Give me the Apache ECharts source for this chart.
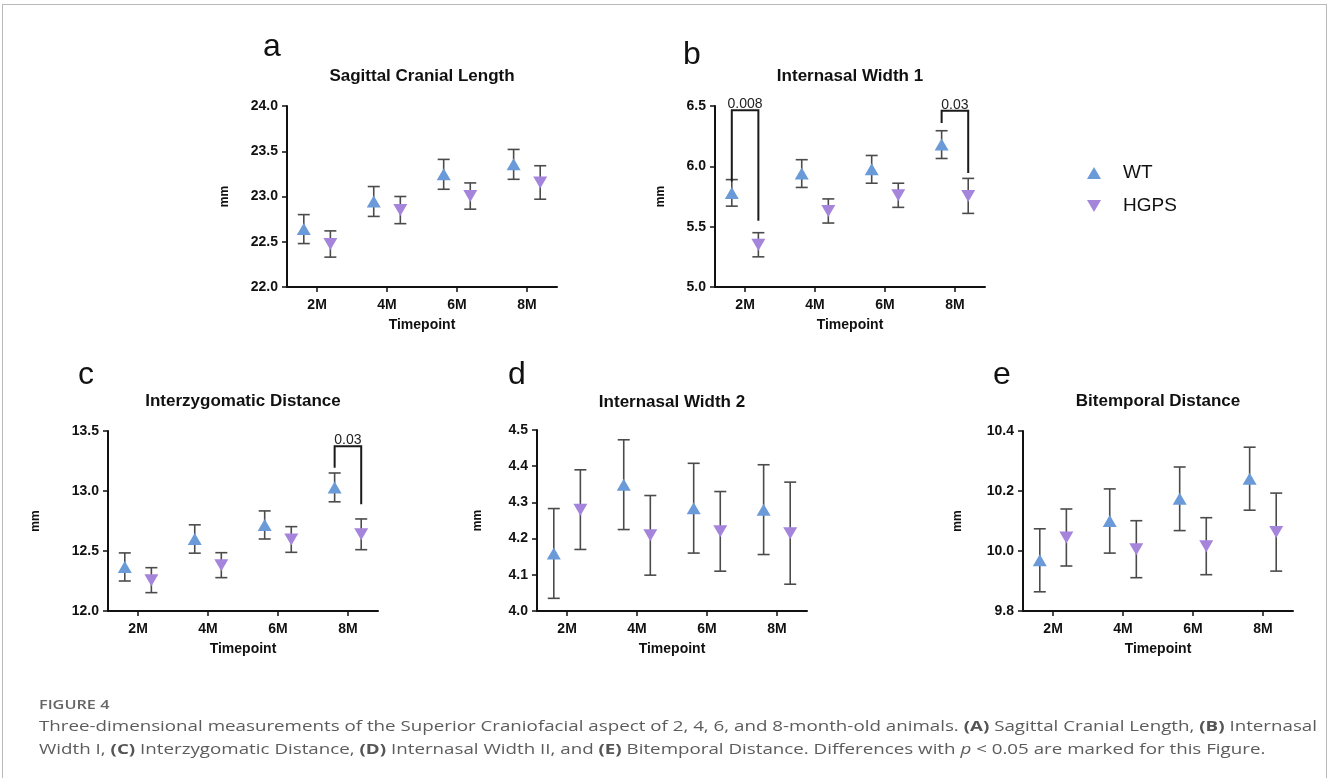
<!DOCTYPE html>
<html>
<head>
<meta charset="utf-8">
<script src="https://cdn.jsdelivr.net/npm/echarts@6/dist/echarts.min.js"></script>
<style>
body{margin:0;background:#fff;overflow:hidden;}
#frame{position:absolute;left:2px;top:4px;width:1325px;height:800px;border:1px solid #b9b9b9;box-sizing:border-box;}
#chart{position:absolute;left:0;top:0;width:1328px;height:778px;}
#caption{position:absolute;left:39px;top:694px;font-family:"Open Sans",sans-serif;color:#5c5c5c;white-space:nowrap;transform:scaleX(1.25);transform-origin:0 0;}
#caption .fig{font-size:13px;font-weight:600;color:#666;line-height:20px;}
#caption .txt{font-size:15px;line-height:23px;}
#caption b{font-weight:700;color:#555;}
</style>
</head>
<body>
<div id="frame"></div>
<div id="chart"></div>
<div id="caption">
<div class="fig">FIGURE 4</div>
<div class="txt">Three-dimensional measurements of the Superior Craniofacial aspect of 2, 4, 6, and 8-month-old animals. <b>(A)</b> Sagittal Cranial Length, <b>(B)</b> Internasal<br>Width I, <b>(C)</b> Interzygomatic Distance, <b>(D)</b> Internasal Width II, and <b>(E)</b> Bitemporal Distance. Differences with <i>p</i> &lt; 0.05 are marked for this Figure.</div>
</div>
<script>
var timepoints = ['2M', '4M', '6M', '8M'];

// a - Sagittal Cranial Length (mean, error)
var sclWT = [22.64, 22.945, 23.245, 23.355];
var sclWTErr = [0.16, 0.165, 0.165, 0.165];
var sclHGPS = [22.475, 22.85, 23.005, 23.155];
var sclHGPSErr = [0.145, 0.15, 0.145, 0.185];

// b - Internasal Width 1
var iw1WT = [5.78, 5.94, 5.975, 6.18];
var iw1WTErr = [0.11, 0.115, 0.115, 0.115];
var iw1HGPS = [5.35, 5.63, 5.76, 5.755];
var iw1HGPSErr = [0.10, 0.10, 0.10, 0.145];

// c - Interzygomatic Distance
var izdWT = [12.367, 12.60, 12.717, 13.03];
var izdWTErr = [0.117, 0.118, 0.117, 0.12];
var izdHGPS = [12.257, 12.382, 12.596, 12.639];
var izdHGPSErr = [0.104, 0.104, 0.107, 0.128];

// d - Internasal Width 2
var iw2WT = [4.159, 4.349, 4.284, 4.28];
var iw2WTErr = [0.124, 0.124, 0.124, 0.124];
var iw2HGPS = [4.28, 4.209, 4.22, 4.215];
var iw2HGPSErr = [0.11, 0.11, 0.11, 0.141];

// e - Bitemporal Distance
var btdWT = [9.969, 10.10, 10.174, 10.241];
var btdWTErr = [0.105, 0.107, 0.106, 0.105];
var btdHGPS = [10.045, 10.006, 10.016, 10.063];
var btdHGPSErr = [0.095, 0.095, 0.095, 0.13];

// significance brackets: [timepoint index, bracket top, WT end, HGPS end]
var sigB = [[0, 6.465, 5.875, 5.55], [3, 6.46, 6.36, 5.945]];
var sigBText = ['0.008', '0.03'];
var sigC = [[3, 13.372, 13.194, 12.889]];
var sigCText = ['0.03'];

// y axis ranges
var yMin = [22, 5, 12, 4, 9.8];
var yMax = [24, 6.5, 13.5, 4.5, 10.4];
var yStep = [0.5, 0.5, 0.5, 0.1, 0.2];

var titles = ['Sagittal Cranial Length', 'Internasal Width 1', 'Interzygomatic Distance', 'Internasal Width 2', 'Bitemporal Distance'];
var letters = ['a', 'b', 'c', 'd', 'e'];

var FONT = '"Liberation Sans", Arial, Helvetica, sans-serif';
var WT_COLOR = '#6a9ad8';
var HG_COLOR = '#a585dc';
var OFF = 0.19;

var panels = [
  {wt: sclWT, wtErr: sclWTErr, hg: sclHGPS, hgErr: sclHGPSErr, sig: [], sigText: [], left: 287, top: 106, height: 181, nameGap: 56, lx: 272, ly: 47, ty: 76},
  {wt: iw1WT, wtErr: iw1WTErr, hg: iw1HGPS, hgErr: iw1HGPSErr, sig: sigB, sigText: sigBText, left: 715, top: 106, height: 181, nameGap: 48, lx: 692, ly: 55, ty: 76},
  {wt: izdWT, wtErr: izdWTErr, hg: izdHGPS, hgErr: izdHGPSErr, sig: sigC, sigText: sigCText, left: 108, top: 431, height: 180, nameGap: 66, lx: 86, ly: 375, ty: 401},
  {wt: iw2WT, wtErr: iw2WTErr, hg: iw2HGPS, hgErr: iw2HGPSErr, sig: [], sigText: [], left: 537, top: 430, height: 181, nameGap: 53, lx: 517, ly: 375, ty: 402},
  {wt: btdWT, wtErr: btdWTErr, hg: btdHGPS, hgErr: btdHGPSErr, sig: [], sigText: [], left: 1023, top: 431, height: 180, nameGap: 59, lx: 1002, ly: 375, ty: 401}
];

function errorBar(params, api) {
  var x = api.value(0), m = api.value(1), e = api.value(2);
  var hi = api.coord([x, m + e]);
  var lo = api.coord([x, m - e]);
  var w = 6;
  var st = {stroke: '#4b4b4b', lineWidth: 1.6, fill: null};
  return {
    type: 'group',
    children: [
      {type: 'line', shape: {x1: hi[0], y1: hi[1], x2: lo[0], y2: lo[1]}, style: st},
      {type: 'line', shape: {x1: hi[0] - w, y1: hi[1], x2: hi[0] + w, y2: hi[1]}, style: st},
      {type: 'line', shape: {x1: lo[0] - w, y1: lo[1], x2: lo[0] + w, y2: lo[1]}, style: st}
    ]
  };
}

function bracketRenderer(texts) {
  return function (params, api) {
    var i = api.value(0);
    var pTop1 = api.coord([i + 1 - OFF, api.value(1)]);
    var pTop2 = api.coord([i + 1 + OFF, api.value(1)]);
    var p1 = api.coord([i + 1 - OFF, api.value(2)]);
    var p2 = api.coord([i + 1 + OFF, api.value(3)]);
    return {
      type: 'group',
      children: [
        {type: 'polyline', shape: {points: [p1, pTop1, pTop2, p2]}, style: {stroke: '#1a1a1a', lineWidth: 2, fill: null}},
        {type: 'text', x: (pTop1[0] + pTop2[0]) / 2, y: pTop1[1] + 1,
          style: {text: texts[params.dataIndex], fill: '#222', font: '14px ' + FONT, align: 'center', verticalAlign: 'bottom'}}
      ]
    };
  };
}

var grid = [], xAxis = [], yAxis = [], series = [], graphic = [];

panels.forEach(function (p, k) {
  grid.push({left: p.left, top: p.top, width: 270, height: p.height});
  xAxis.push({
    type: 'value', gridIndex: k, min: 0.57, max: 4.43,
    name: 'Timepoint', nameLocation: 'middle', nameGap: 31,
    nameTextStyle: {fontFamily: FONT, fontWeight: 'bold', fontSize: 14, color: '#111'},
    splitLine: {show: false},
    axisLine: {show: true, onZero: false, lineStyle: {color: '#111', width: 2}},
    axisTick: {show: true, length: 5, customValues: [1, 2, 3, 4], lineStyle: {color: '#111', width: 1.5}},
    axisLabel: {customValues: [1, 2, 3, 4], margin: 11, fontFamily: FONT, fontWeight: 'bold', fontSize: 14, color: '#111',
      formatter: function (v) { return timepoints[Math.round(v) - 1] || ''; }}
  });
  yAxis.push({
    type: 'value', gridIndex: k, min: yMin[k], max: yMax[k], interval: yStep[k],
    name: 'mm', nameLocation: 'middle', nameRotate: 90, nameGap: p.nameGap,
    nameTextStyle: {fontFamily: FONT, fontWeight: 'bold', fontSize: 12, color: '#111'},
    splitLine: {show: false},
    axisLine: {show: true, lineStyle: {color: '#111', width: 2}},
    axisTick: {show: true, length: 5, lineStyle: {color: '#111', width: 1.5}},
    axisLabel: {margin: 9, fontFamily: FONT, fontWeight: 'bold', fontSize: 14, color: '#111',
      formatter: function (v) { return v.toFixed(1); }}
  });

  var wtBars = [], hgBars = [], wtPts = [], hgPts = [];
  for (var i = 0; i < timepoints.length; i++) {
    wtBars.push([i + 1 - OFF, p.wt[i], p.wtErr[i]]);
    hgBars.push([i + 1 + OFF, p.hg[i], p.hgErr[i]]);
    wtPts.push([i + 1 - OFF, p.wt[i]]);
    hgPts.push([i + 1 + OFF, p.hg[i]]);
  }
  series.push({type: 'custom', xAxisIndex: k, yAxisIndex: k, renderItem: errorBar, data: wtBars, encode: {x: 0, y: 1}, z: 1, silent: true});
  series.push({type: 'custom', xAxisIndex: k, yAxisIndex: k, renderItem: errorBar, data: hgBars, encode: {x: 0, y: 1}, z: 1, silent: true});
  series.push({name: 'WT', type: 'scatter', xAxisIndex: k, yAxisIndex: k, symbol: 'triangle', symbolSize: [14, 12],
    itemStyle: {color: WT_COLOR, opacity: 1}, data: wtPts, z: 3});
  series.push({name: 'HGPS', type: 'scatter', xAxisIndex: k, yAxisIndex: k, symbol: 'triangle', symbolRotate: 180, symbolSize: [14, 12],
    itemStyle: {color: HG_COLOR, opacity: 1}, data: hgPts, z: 3});
  if (p.sig.length) {
    series.push({type: 'custom', xAxisIndex: k, yAxisIndex: k, renderItem: bracketRenderer(p.sigText), data: p.sig,
      encode: {x: 0, y: 1}, z: 2, silent: true, clip: false});
  }

  graphic.push({type: 'text', x: p.lx, y: p.ly,
    style: {text: letters[k], font: '32px ' + FONT, fill: '#111', align: 'center', verticalAlign: 'middle'}});
  graphic.push({type: 'text', x: p.left + 135, y: p.ty,
    style: {text: titles[k], font: 'bold 17px ' + FONT, fill: '#111', align: 'center', verticalAlign: 'middle'}});
});

var chart = echarts.init(document.getElementById('chart'));
chart.setOption({
  animation: false,
  backgroundColor: 'transparent',
  grid: grid,
  xAxis: xAxis,
  yAxis: yAxis,
  legend: {
    orient: 'vertical', left: 1082, top: 158, itemWidth: 14, itemHeight: 12, itemGap: 13,
    data: [
      {name: 'WT', icon: 'path://M7,0L14,12L0,12Z'},
      {name: 'HGPS', icon: 'path://M0,0L14,0L7,12Z'}
    ],
    textStyle: {fontFamily: FONT, fontSize: 19, color: '#111', lineHeight: 20, padding: [0, 0, 0, 17]}
  },
  graphic: graphic,
  series: series
});
</script>
</body>
</html>
